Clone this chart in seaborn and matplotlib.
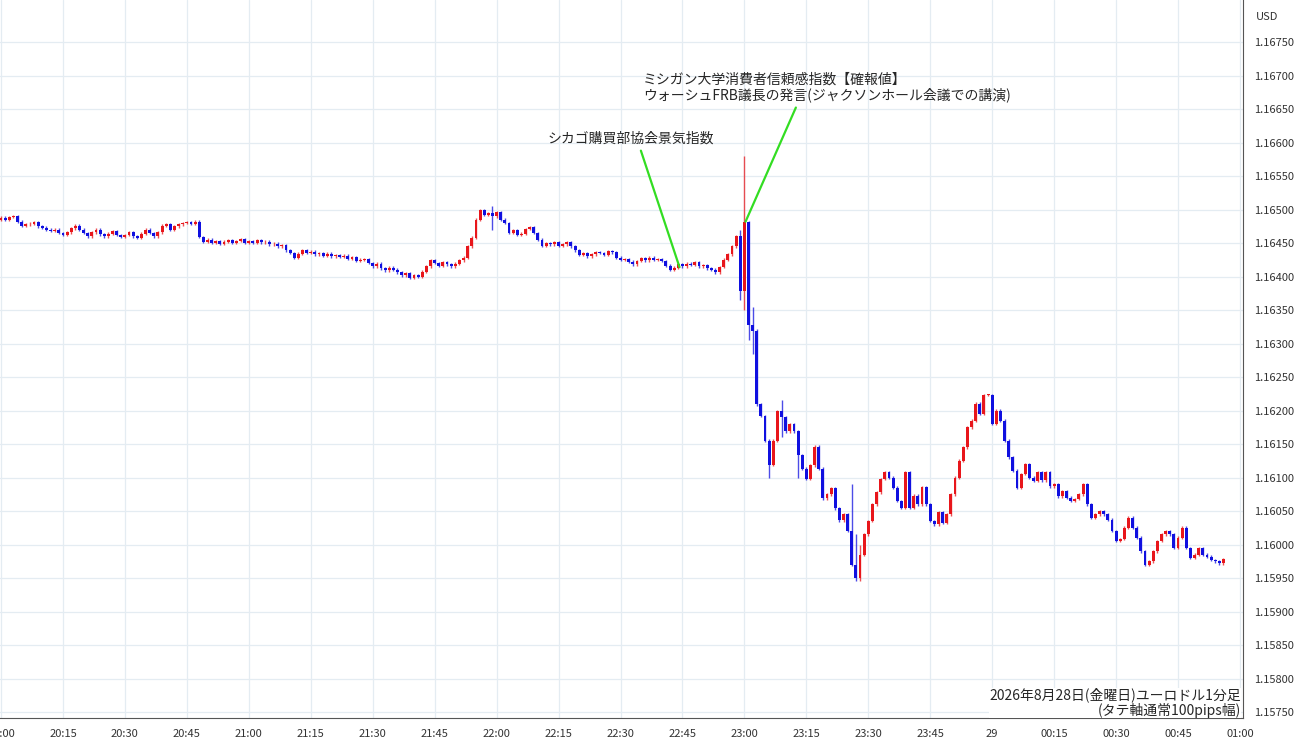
import numpy as np
import matplotlib
matplotlib.use("Agg")
import matplotlib.pyplot as plt
import seaborn as sns

# closes in pips relative to 1.16000, one per minute from 20:00
closes_pips = [
 48.8,48.5,48.9,49.0,48.2,47.6,47.8,47.9,48.1,47.5,47.3,47.0,46.8,47.0,46.5,
 46.2,46.6,47.2,47.6,47.0,46.5,46.0,46.6,47.0,46.3,46.0,46.4,46.8,46.2,45.9,
 46.2,46.6,46.0,45.8,46.4,47.0,46.5,46.0,46.6,47.6,47.8,47.0,47.5,47.8,48.0,
 48.1,47.9,48.2,45.9,45.2,45.5,45.0,45.3,44.9,45.2,45.4,45.0,45.3,45.6,45.0,
 45.3,45.0,45.4,45.1,45.2,44.8,44.9,44.5,44.7,43.9,43.5,42.8,43.4,43.9,43.5,
 43.7,43.3,43.5,43.1,43.4,43.0,43.2,42.9,43.1,42.6,42.9,42.3,42.5,42.6,42.0,
 41.5,41.9,41.2,40.9,41.3,41.0,40.6,40.2,40.5,39.8,40.2,40.0,40.7,41.5,42.4,
 42.0,41.6,42.1,41.8,41.5,41.9,42.4,42.8,44.5,45.8,48.5,49.9,49.2,49.5,49.0,
 49.6,48.5,48.0,46.5,46.9,46.2,46.4,47.1,47.4,46.5,45.5,44.6,45.0,44.8,45.1,
 44.6,44.8,45.1,44.5,43.9,43.2,43.5,43.0,43.3,43.6,43.5,43.2,43.8,43.6,42.8,
 42.5,42.6,42.2,41.8,42.3,42.7,42.4,42.8,42.5,42.6,42.3,41.6,41.0,41.3,41.8,
 41.5,41.9,41.7,42.1,41.5,41.7,41.2,41.0,40.6,41.4,42.5,43.3,44.5,46.0,37.9,
 48.1,32.8,31.9,20.9,19.2,15.5,11.9,15.5,19.9,19.0,16.9,18.0,16.9,13.3,11.3,
 9.8,11.8,14.6,11.3,6.9,7.5,8.4,5.4,3.6,4.5,2.0,-3.0,-5.0,-1.5,1.5,
 3.5,6.0,7.8,9.8,10.8,10.0,8.5,6.5,5.5,10.8,5.5,7.3,6.0,8.6,6.0,
 3.5,3.0,4.8,3.2,4.5,7.5,10.0,12.5,14.5,17.5,18.5,21.0,19.5,22.3,22.3,
 18.0,20.0,18.5,15.5,13.0,11.0,8.5,10.5,12.0,10.0,9.5,10.8,9.6,10.8,8.7,
 9.0,7.2,8.0,7.0,6.5,6.8,7.5,9.0,6.0,4.0,4.5,5.0,4.5,3.7,2.0,
 0.5,0.8,2.5,4.0,2.5,1.0,-1.0,-3.0,-2.5,-1.0,0.5,1.5,2.0,1.5,-0.5,
 1.0,2.5,-0.5,-2.0,-1.5,-0.5,-1.5,-1.8,-2.3,-2.5,-2.8,-2.2,
]
first_open_pips = 48.5
# notable wicks: index -> (high pips, low pips)
wicks = {180: (58.0, 35.0), 179: (47.0, 36.5), 181: (48.1, 30.5), 182: (35.5, 28.5),
         186: (12.0, 10.0), 193: (16.0, 10.0), 206: (9.0, 3.0), 207: (1.5, -5.5),
         208: (0.0, -5.5), 119: (50.5, 47.0), 189: (21.5, 16.0), 208.5: (0, 0)}
wicks.pop(208.5)

yticks = [1.15750,1.15800,1.15850,1.15900,1.15950,1.16000,1.16050,1.16100,1.16150,
          1.16200,1.16250,1.16300,1.16350,1.16400,1.16450,1.16500,1.16550,1.16600,
          1.16650,1.16700,1.16750]
xtick_labels = ["20:00","20:15","20:30","20:45","21:00","21:15","21:30","21:45","22:00",
                "22:15","22:30","22:45","23:00","23:15","23:30","23:45","29","00:15",
                "00:30","00:45","01:00"]
event1 = "シカゴ購買部協会景気指数"
event2 = "ミシガン大学消費者信頼感指数【確報値】\nウォーシュFRB議長の発言(ジャクソンホール会議での講演)"
note = "2026年8月28日(金曜日)ユーロドル1分足\n(タテ軸通常100pips幅)"

sns.set_style("white")
plt.rcParams['font.family'] = ['Noto Sans CJK JP', 'DejaVu Sans']

closes = 1.16 + np.array(closes_pips) / 10000
opens = np.concatenate([[1.16 + first_open_pips / 10000], closes[:-1]])
highs = np.maximum(opens, closes) + 0.00002
lows = np.minimum(opens, closes) - 0.00002
for i, (h, l) in wicks.items():
    highs[i] = max(highs[i], 1.16 + h / 10000)
    lows[i] = min(lows[i], 1.16 + l / 10000)
idx = np.arange(len(closes))

W, H = 1300, 745
fig = plt.figure(figsize=(13, 7.45), dpi=100)
ax = fig.add_axes([0, 27 / H, 1243 / W, 718 / H])
ppm = 4.13
ax.set_xlim(-1 / ppm, 1242 / ppm)
ax.set_ylim(1.1575 - 6 / 67000, 1.1575 + 712 / 67000)

up = closes >= opens
cols = np.where(up, "#e8161b", "#1010e0")
ax.vlines(idx, lows, highs, colors=cols, linewidth=1.0, alpha=0.75)
ax.bar(idx, np.maximum(np.abs(closes - opens), 0.00001),
       bottom=np.minimum(opens, closes), width=0.7, color=cols, linewidth=0)

ax.set_yticks(yticks)
ax.set_xticks(np.arange(0, 301, 15))
ax.grid(True, color="#e4ecf2", linewidth=0.9)
ax.set_axisbelow(True)
ax.yaxis.tick_right()
ax.set_yticklabels([f"{v:.5f}" for v in yticks], fontsize=8, color="#333333")
ax.set_xticklabels(xtick_labels, fontsize=8, color="#333333")
ax.tick_params(length=0, pad=8)
for s in ["top", "left"]:
    ax.spines[s].set_visible(False)
ax.spines["right"].set_color("#555555")
ax.spines["bottom"].set_color("#555555")
fig.text(1256 / W, 1 - 17 / H, "USD", fontsize=8, va="center", color="#333333")

green = "#33dd22"
ax.annotate("", xy=(164.5, 1.1641), xycoords="data", xytext=(640, H - 148),
            textcoords="figure pixels",
            arrowprops=dict(arrowstyle="-", color=green, lw=1.6))
ax.annotate("", xy=(180, 1.16478), xycoords="data", xytext=(797, H - 105),
            textcoords="figure pixels",
            arrowprops=dict(arrowstyle="-", color=green, lw=1.6))
fig.text(548 / W, 1 - 139 / H, event1, fontsize=10, va="center")
fig.text(643 / W, 1 - 87 / H, event2, fontsize=10, va="center", linespacing=1.05)
fig.text(1241 / W, 1 - 703 / H, note, fontsize=10, va="center", ha="right",
         linespacing=1.05, bbox=dict(facecolor="white", edgecolor="none", pad=0))

fig.savefig("out.png", dpi=100)
